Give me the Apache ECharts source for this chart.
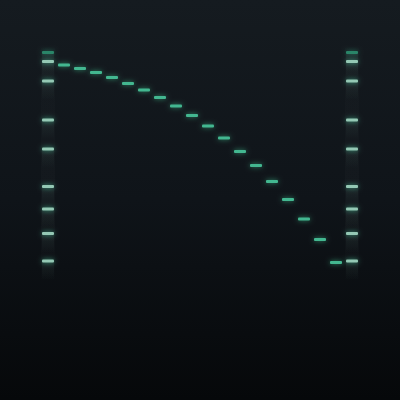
<!DOCTYPE html>
<html><head><meta charset="utf-8">
<script src="https://cdn.jsdelivr.net/npm/echarts@6/dist/echarts.min.js"></script>
<style>html,body{margin:0;padding:0;background:#0b0f13}#c{width:400px;height:400px}</style>
</head><body><div id="c"></div>
<script>
// Lanes: ladder, 18 samples, ladder
const lanes = ['Ladder L','1','2','3','4','5','6','7','8','9','10','11','12','13','14','15','16','17','18','Ladder R'];
// Migration distance (mm) of ladder bands
const ladderBands = [2.5, 4.3, 8.2, 16.0, 21.8, 29.3, 33.8, 38.7, 44.2];
// Migration distance (mm) of the single band in each sample lane 1..18
const sampleBands = [5.0, 5.7, 6.5, 7.5, 8.7, 10.0, 11.5, 13.2, 15.1, 17.2, 19.6, 22.3, 25.1, 28.3, 31.9, 35.8, 39.9, 44.5];

const ladderData = [];
['Ladder L','Ladder R'].forEach(l => ladderBands.forEach((v,i) => ladderData.push([l, v, i])));
const sampleData = sampleBands.map((v,i) => [lanes[i+1], v]);
const laneBg = [['Ladder L', 1.5, 49], ['Ladder R', 1.5, 49]];

const chart = echarts.init(document.getElementById('c'));
const G = echarts.graphic;
chart.setOption({
  backgroundColor: new G.LinearGradient(0,0,0,1,[
    {offset:0,color:'#151b20'},{offset:0.5,color:'#0f1419'},{offset:1,color:'#06080a'}]),
  animation:false,
  grid:{left:40,right:40,top:40,height:250},
  xAxis:{type:'category',data:lanes,show:false},
  yAxis:{type:'value',min:0,max:50,inverse:true,show:false},
  series:[
    {type:'custom', data:laneBg, renderItem:(p,api)=>{
      const a=api.coord([api.value(0),api.value(1)]), b=api.coord([api.value(0),api.value(2)]);
      return {type:'rect',shape:{x:a[0]-7,y:a[1],width:14,height:b[1]-a[1]},
        style:{fill:new G.LinearGradient(0,0,0,1,[
          {offset:0,color:'rgba(255,255,255,0.006)'},{offset:0.75,color:'rgba(255,255,255,0.02)'},{offset:1,color:'rgba(255,255,255,0)'}])}};
    }},
    {type:'custom', data:ladderData, renderItem:(p,api)=>{
      const c=api.coord([api.value(0),api.value(1)]);
      const first=api.value(2)===0;
      return {type:'group',children:[
        {type:'rect',shape:{x:c[0]-6,y:c[1]+1,width:12,height:18},
          style:{fill:new G.LinearGradient(0,0,0,1,[{offset:0,color:'rgba(140,210,185,0.08)'},{offset:1,color:'rgba(140,210,185,0)'}])}},
        {type:'rect',shape:{x:c[0]-6,y:c[1]-1.5,width:12,height:3,r:1},
          style:{fill:first?'#2a8568':'#94c8b4',shadowBlur:5,shadowColor:first?'rgba(40,160,120,0.6)':'rgba(70,190,150,0.8)'}}
      ]};
    }},
    {type:'custom', data:sampleData, renderItem:(p,api)=>{
      const c=api.coord([api.value(0),api.value(1)]);
      return {type:'rect',shape:{x:c[0]-6,y:c[1]-1.5,width:12,height:3,r:1},
        style:{fill:'#43b790',shadowBlur:5,shadowColor:'rgba(60,190,140,0.7)'}};
    }}
  ]
});
</script></body></html>
